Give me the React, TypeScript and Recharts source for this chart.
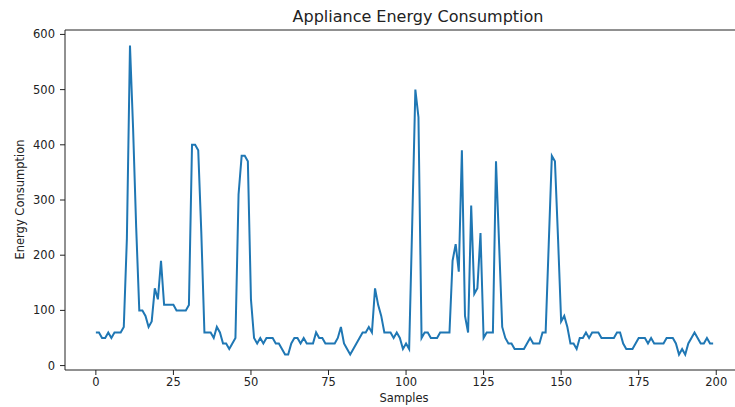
import React from 'react';
import { LineChart, Line, XAxis, YAxis, ReferenceLine } from 'recharts';

// appliance energy readings, one per sample (0..199)
const energy = [
  60, 60, 50, 50, 60, 50, 60, 60, 60, 70,
  230, 580, 430, 250, 100, 100, 90, 70, 80, 140,
  120, 190, 110, 110, 110, 110, 100, 100, 100, 100,
  110, 400, 400, 390, 240, 60, 60, 60, 50, 70,
  60, 40, 40, 30, 40, 50, 310, 380, 380, 370,
  120, 50, 40, 50, 40, 50, 50, 50, 40, 40,
  30, 20, 20, 40, 50, 50, 40, 50, 40, 40,
  40, 60, 50, 50, 40, 40, 40, 40, 50, 70,
  40, 30, 20, 30, 40, 50, 60, 60, 70, 60,
  140, 110, 90, 60, 60, 60, 50, 60, 50, 30,
  40, 30, 260, 500, 450, 50, 60, 60, 50, 50,
  50, 60, 60, 60, 60, 190, 220, 170, 390, 90,
  60, 290, 130, 140, 240, 50, 60, 60, 60, 370,
  220, 70, 50, 40, 40, 30, 30, 30, 30, 40,
  50, 40, 40, 40, 60, 60, 220, 380, 370, 230,
  80, 90, 70, 40, 40, 30, 50, 50, 60, 50,
  60, 60, 60, 50, 50, 50, 50, 50, 60, 60,
  40, 30, 30, 30, 40, 50, 50, 50, 40, 50,
  40, 40, 40, 40, 50, 50, 50, 40, 20, 30,
  20, 40, 50, 60, 50, 40, 40, 50, 40, 40,
];

const xTicks = [0, 25, 50, 75, 100, 125, 150, 175, 200];
const yTicks = [0, 100, 200, 300, 400, 500, 600];

const data = energy.map((value, i) => ({ sample: i, energy: value }));

const font = '"DejaVu Sans", sans-serif';
const ink = '#222';

export default function App() {
  return (
    <div
      style={{
        position: 'absolute',
        left: 0,
        top: 0,
        width: 735,
        height: 407,
        overflow: 'hidden',
        background: '#fff',
        fontFamily: font,
        color: ink,
      }}
    >
      <LineChart width={760} height={407} data={data} margin={{ top: 30, right: 16, bottom: 0, left: 0 }}>
        <XAxis
          type="number"
          dataKey="sample"
          domain={[-9.95, 208.95]}
          ticks={xTicks}
          interval={0}
          allowDataOverflow
          height={37}
          tickSize={5}
          tickMargin={3}
          stroke={ink}
          tickLine={{ stroke: ink }}
          tick={{ fontSize: 11.5, fill: ink, fontFamily: font }}
        />
        <YAxis
          type="number"
          domain={[-8, 608]}
          ticks={yTicks}
          interval={0}
          allowDataOverflow
          width={65}
          tickSize={5}
          tickMargin={5}
          stroke={ink}
          tickLine={{ stroke: ink }}
          tick={{ fontSize: 11.5, fill: ink, fontFamily: font }}
        />
        <ReferenceLine y={608} stroke={ink} />
        <Line
          type="linear"
          dataKey="energy"
          stroke="#1f77b4"
          strokeWidth={2}
          dot={false}
          isAnimationActive={false}
        />
      </LineChart>
      <div
        style={{
          position: 'absolute',
          left: 218,
          width: 400,
          top: 8,
          textAlign: 'center',
          fontSize: 16,
          lineHeight: '18px',
        }}
      >
        Appliance Energy Consumption
      </div>
      <div
        style={{
          position: 'absolute',
          left: 304,
          width: 200,
          top: 392,
          textAlign: 'center',
          fontSize: 11.5,
          lineHeight: '13px',
        }}
      >
        Samples
      </div>
      <div
        style={{
          position: 'absolute',
          left: 20 - 100,
          width: 200,
          top: 200 - 7,
          textAlign: 'center',
          fontSize: 11.5,
          lineHeight: '13px',
          transform: 'rotate(-90deg)',
        }}
      >
        Energy Consumption
      </div>
    </div>
  );
}
